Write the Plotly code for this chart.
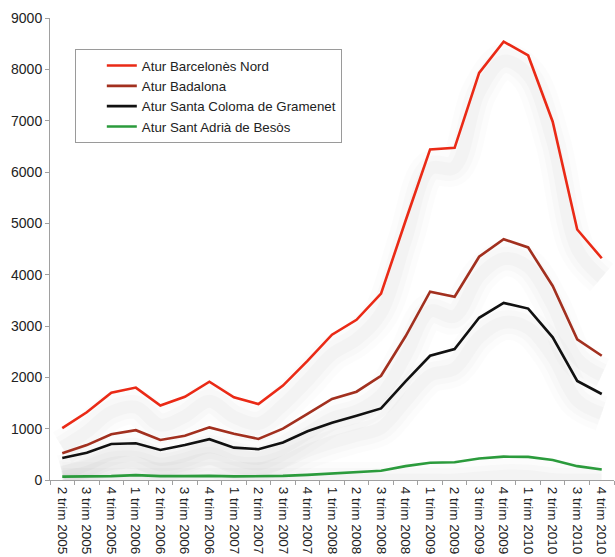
import plotly.graph_objects as go

categories = [
    "2 trim 2005", "3 trim 2005", "4 trim 2005",
    "1 trim 2006", "2 trim 2006", "3 trim 2006", "4 trim 2006",
    "1 trim 2007", "2 trim 2007", "3 trim 2007", "4 trim 2007",
    "1 trim 2008", "2 trim 2008", "3 trim 2008", "4 trim 2008",
    "1 trim 2009", "2 trim 2009", "3 trim 2009", "4 trim 2009",
    "1 trim 2010", "2 trim 2010", "3 trim 2010", "4 trim 2010",
]

barcelones_nord = [1010, 1320, 1700, 1800, 1450, 1620, 1915, 1610, 1480, 1840, 2320, 2830,
                   3120, 3630, 5050, 6440, 6470, 7930, 8540, 8270, 6980, 4880, 4320]
badalona = [520, 680, 890, 970, 780, 860, 1025, 900, 800, 1000, 1290, 1580,
            1720, 2030, 2800, 3670, 3570, 4350, 4690, 4530, 3780, 2740, 2420]
santa_coloma = [430, 530, 700, 715, 585, 680, 795, 630, 600, 730, 950, 1115,
                1250, 1395, 1920, 2420, 2550, 3160, 3450, 3340, 2780, 1930, 1675]
sant_adria = [65, 70, 75, 95, 75, 75, 80, 70, 70, 80, 100, 130,
              160, 180, 270, 335, 345, 420, 455, 450, 390, 270, 205]

series_names = ["Atur Barcelonès Nord", "Atur Badalona",
                "Atur Santa Coloma de Gramenet", "Atur Sant Adrià de Besòs"]
series_values = [barcelones_nord, badalona, santa_coloma, sant_adria]
series_colors = ["#ea2a16", "#a2301f", "#111111", "#2b9b3c"]

y_ticks = [0, 1000, 2000, 3000, 4000, 5000, 6000, 7000, 8000, 9000]

SHADOW_OFFSET = 380

fig = go.Figure()

# soft drop shadows under the lines
for vals in series_values:
    shadow = [max(v - SHADOW_OFFSET, 0) for v in vals]
    for w, a in [(36, 0.013), (24, 0.016), (13, 0.02)]:
        fig.add_trace(go.Scatter(
            x=categories, y=shadow, mode="lines",
            line=dict(color=f"rgba(0,0,0,{a})", width=w, shape="spline", smoothing=1.0),
            showlegend=False, hoverinfo="skip",
        ))

for name, vals, col in zip(series_names, series_values, series_colors):
    fig.add_trace(go.Scatter(
        x=categories, y=vals, mode="lines", name=name, legendgroup=name,
        line=dict(color=col, width=2.6),
    ))

fig.update_layout(
    width=615, height=557,
    margin=dict(l=50, r=1, t=18, b=77, autoexpand=False),
    paper_bgcolor="white", plot_bgcolor="white",
    font=dict(family="Arial, Liberation Sans, sans-serif", size=13, color="#222222"),
    showlegend=True,
    legend=dict(
        x=0.044, y=0.932, xanchor="left", yanchor="top",
        bgcolor="white", bordercolor="#9a9a9a", borderwidth=1,
        font=dict(size=13.3, color="#222222"),
        traceorder="grouped", tracegroupgap=0,
        indentation=26,
    ),
)

fig.update_xaxes(
    type="category", range=[-0.5, len(categories) - 0.5],
    showline=True, linecolor="#a0a0a0", linewidth=1,
    ticks="outside", ticklen=4, tickcolor="#a0a0a0", tickson="boundaries",
    tickangle=90, tickfont=dict(size=13.5, color="#222222"),
    ticklabelstandoff=3,
    showgrid=False, zeroline=False,
)
fig.update_yaxes(
    range=[0, 9000], tickvals=y_ticks, ticktext=[str(t) for t in y_ticks],
    showline=True, linecolor="#a0a0a0", linewidth=1,
    ticks="outside", ticklen=4, tickcolor="#a0a0a0",
    tickfont=dict(size=14, color="#222222"),
    showgrid=False, zeroline=False,
)

fig.write_html(
    "out.html",
    config={"displayModeBar": False},
    post_script="document.body.style.margin='0';document.body.style.overflow='hidden';",
)
